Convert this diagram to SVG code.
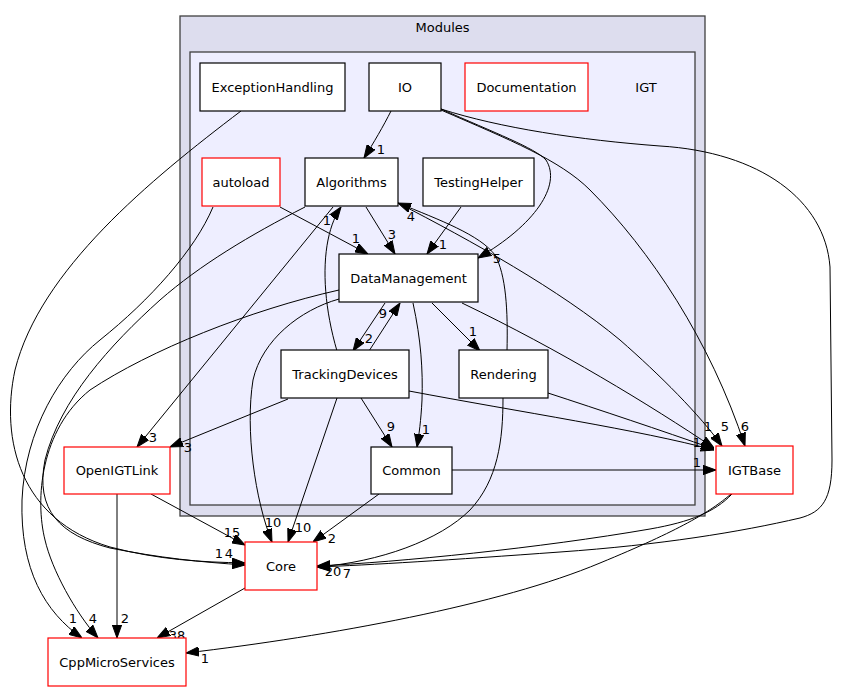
<svg xmlns="http://www.w3.org/2000/svg" width="841" height="692" viewBox="0 0 841 692">
<style>
text{font-family:"DejaVu Sans","Liberation Sans",sans-serif;font-size:13px;fill:#000;text-anchor:middle}
.n{fill:#fff;stroke:#000;stroke-width:1.2}
.r{fill:#fff;stroke:#f00;stroke-width:1.2}
.e{fill:none;stroke:#000;stroke-width:1;marker-end:url(#ah)}
</style>
<defs>
<marker id="ah" markerUnits="userSpaceOnUse" markerWidth="13" markerHeight="10" viewBox="0 0 13 10" refX="13" refY="5" orient="auto">
<path d="M0,0.35 L13,5 L0,9.65 Z" fill="#000" stroke="#000" stroke-width="1"/>
</marker>
</defs>
<rect width="841" height="692" fill="#fff"/>
<g id="cluster_modules">
<rect x="180" y="16" width="525" height="500" fill="#ddddee" stroke="#404040" stroke-width="1.3"/>
<text x="442.5" y="32">Modules</text>
</g>
<g id="cluster_igt">
<rect x="190" y="52" width="505" height="453" fill="#eeeeff" stroke="#404040" stroke-width="1.3"/>
<text x="646" y="91.5">IGT</text>
</g>

<g id="connectors">
<path class="e" d="M391,111 C384,125 373,144 364,158"/>
<path class="e" d="M441,109 C495,133 535,148 546,160 C562,185 535,225 478,258"/>
<path class="e" d="M441,110 C510,140 560,160 590,190 C650,250 710,340 745,446"/>
<path class="e" d="M441,109 C500,128 580,140 660,146 C760,152 825,200 830,267 L832,460 C832,500 822,512 800,518 C740,532 660,545 560,552 C450,560 370,565 317,567"/>
<path class="e" d="M241,111 C150,180 40,270 15,370 C0,440 20,520 110,547 C160,560 200,562 245,563"/>
<path class="e" d="M280,207 L368,254"/>
<path class="e" d="M213,207 C195,250 150,300 100,340 C60,372 25,430 22,500 C20,570 45,612 82,638"/>
<path class="e" d="M366,207 L395,254"/>
<path class="e" d="M333,207 L137,447"/>
<path class="e" d="M305,207 C250,235 200,265 160,300 C110,345 60,400 45,460 C35,510 60,535 110,548 C160,558 200,562 245,565"/>
<path class="e" d="M398,203 C470,240 560,290 620,340 C660,375 700,415 722,446"/>
<path class="e" d="M507,351 C508,310 506,275 495,255 C480,235 440,220 398,203"/>
<path class="e" d="M461,207 L427,254"/>
<path class="e" d="M337,351 C325,310 322,270 328,240 C331,225 336,214 341,207"/>
<path class="e" d="M385,303 L353,351"/>
<path class="e" d="M369,351 L400,303"/>
<path class="e" d="M432,303 L480,351"/>
<path class="e" d="M413,303 C421,340 423,370 422,400 C421,420 419,435 417,447"/>
<path class="e" d="M462,303 C560,350 650,405 714,448"/>
<path class="e" d="M339,299 C300,310 262,340 253,380 C245,430 255,500 272,542"/>
<path class="e" d="M339,290 C250,310 150,350 90,390 C40,430 35,500 45,540 C52,570 75,612 98,638"/>
<path class="e" d="M337,398 L288,542"/>
<path class="e" d="M361,398 L392,447"/>
<path class="e" d="M288,399 L170,447"/>
<path class="e" d="M409,391 C520,412 640,430 714,450"/>
<path class="e" d="M548,393 C600,410 660,430 714,449"/>
<path class="e" d="M503,398 C503,440 498,480 470,510 C440,540 380,562 317,567"/>
<path class="e" d="M452,470 L716,470"/>
<path class="e" d="M379,494 L313,542"/>
<path class="e" d="M151,494 L245,545"/>
<path class="e" d="M117,494 L117,638"/>
<path class="e" d="M732,494 C715,512 690,522 650,529 C540,548 400,562 317,566"/>
<path class="e" d="M731,494 C710,512 680,530 600,563 C500,605 330,636 186,653"/>
<path class="e" d="M245,588 L157,638"/>
<g id="edge_labels">
<text x="381" y="153.5">1</text>
<text x="497" y="262.5">5</text>
<text x="745" y="431">6</text>
<text x="708" y="431">1</text>
<text x="725" y="431">5</text>
<text x="707" y="451">2</text>
<text x="697" y="447">1</text>
<text x="697" y="467">1</text>
<text x="327" y="224.5">1</text>
<text x="411" y="220.5">4</text>
<text x="356" y="242.5">1</text>
<text x="392" y="238.5">3</text>
<text x="443" y="248.5">1</text>
<text x="383" y="317.5">9</text>
<text x="369" y="342.5">2</text>
<text x="473" y="335.5">1</text>
<text x="391" y="430.5">9</text>
<text x="426" y="433.5">1</text>
<text x="153" y="441.5">3</text>
<text x="188" y="451.5">3</text>
<text x="273" y="526.5">10</text>
<text x="303" y="531.5">10</text>
<text x="332" y="542.5">2</text>
<text x="232" y="536.5">15</text>
<text x="219" y="557.5">1</text>
<text x="229" y="557.5">4</text>
<text x="333" y="575.5">20</text>
<text x="347" y="578">7</text>
<text x="73" y="622.5">1</text>
<text x="93" y="622.5">4</text>
<text x="125" y="622.5">2</text>
<text x="177" y="639.5">38</text>
<text x="205" y="662.5">1</text>
</g>
</g>

<g id="ExceptionHandling"><rect class="n" x="200" y="63" width="145" height="48"/><text x="272.5" y="91.5">ExceptionHandling</text></g>
<g id="IO"><rect class="n" x="369" y="63" width="72" height="48"/><text x="405" y="91.5">IO</text></g>
<g id="Documentation"><rect class="r" x="465" y="63" width="123" height="48"/><text x="526.5" y="91.5">Documentation</text></g>
<g id="autoload"><rect class="r" x="202" y="158" width="78" height="48"/><text x="241" y="186.5">autoload</text></g>
<g id="Algorithms"><rect class="n" x="305" y="158" width="93" height="48"/><text x="351.5" y="186.5">Algorithms</text></g>
<g id="TestingHelper"><rect class="n" x="423" y="158" width="111" height="48"/><text x="478.5" y="186.5">TestingHelper</text></g>
<g id="DataManagement"><rect class="n" x="339" y="254" width="139" height="48"/><text x="408.5" y="282.5">DataManagement</text></g>
<g id="TrackingDevices"><rect class="n" x="281" y="350" width="128" height="48"/><text x="345" y="378.5">TrackingDevices</text></g>
<g id="Rendering"><rect class="n" x="459" y="350" width="89" height="48"/><text x="503.5" y="378.5">Rendering</text></g>
<g id="Common"><rect class="n" x="371" y="447" width="81" height="47"/><text x="411.5" y="475">Common</text></g>
<g id="IGTBase"><rect class="r" x="716" y="446" width="77" height="48"/><text x="754.5" y="474.5">IGTBase</text></g>
<g id="OpenIGTLink"><rect class="r" x="64" y="447" width="106" height="47"/><text x="117" y="475">OpenIGTLink</text></g>
<g id="Core"><rect class="r" x="245" y="542" width="72" height="48"/><text x="281" y="570.5">Core</text></g>
<g id="CppMicroServices"><rect class="r" x="48" y="638" width="138" height="48"/><text x="117" y="666.5">CppMicroServices</text></g>
</svg>
